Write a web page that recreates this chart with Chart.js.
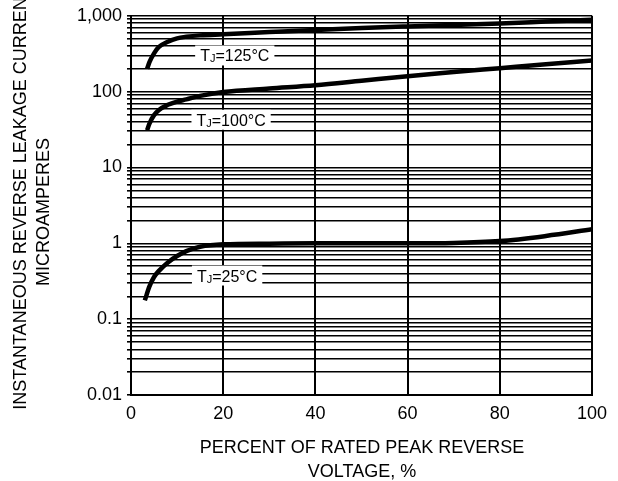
<!DOCTYPE html>
<html>
<head>
<meta charset="utf-8">
<script src="https://cdn.jsdelivr.net/npm/chart.js@4.4.1/dist/chart.umd.min.js"></script>
<style>
  html, body { margin: 0; padding: 0; background: #fff; }
  #wrap { width: 618px; height: 481px; }
</style>
</head>
<body>
<div id="wrap"><canvas id="myChart" width="618" height="481"></canvas></div>
<script>
// percent of rated peak reverse voltage
const pctV = [3.5, 4, 5, 6, 8, 10, 12, 15, 20, 30, 40, 50, 60, 70, 80, 90, 100];
const pctV25 = [3, 4, 5, 6, 8, 10, 12, 15, 20, 30, 40, 50, 60, 70, 80, 90, 100];

// leakage current, microamperes
const ir125 = [200, 245, 320, 385, 455, 505, 530, 552, 570, 610, 652, 690, 724, 757, 792, 838, 887];
const ir100 = [31, 38, 49, 57, 67, 74, 79, 88, 99, 110, 121, 139, 160, 181, 204, 230, 258];
const ir25 = [0.177, 0.27, 0.36, 0.43, 0.56, 0.68, 0.79, 0.9, 0.97, 0.99, 1.0, 1.0, 1.0, 1.01, 1.07, 1.25, 1.53];

// y axis
const decades = [0.01, 0.1, 1, 10, 100];
const decadeLabels = ['0.01', '0.1', '1', '10', '100', '1,000'];
const mantissas = [1, 2, 3, 4, 5, 6, 7, 8, 9];

const xTicks = [0, 20, 40, 60, 80, 100];

const yMajor = decades.concat([1000]);
let yTicks = [];
decades.forEach(d => mantissas.forEach(m => yTicks.push(+(d * m).toPrecision(3))));
yTicks.push(1000);

const FONT = 'Arial, "Liberation Sans", Helvetica, sans-serif';

function pts(xs, ys) {
  return xs.map((x, i) => ({x: x, y: ys[i]}));
}

function curve(data) {
  return {
    data: data,
    borderColor: '#000',
    borderWidth: 4.5,
    pointRadius: 0,
    fill: false,
    cubicInterpolationMode: 'monotone',
    borderCapStyle: 'butt'
  };
}

// titles + Tj labels
const extras = {
  id: 'extras',
  afterDraw(chart) {
    const ctx = chart.ctx;
    const xs = chart.scales.x, ys = chart.scales.y;
    ctx.save();
    ctx.fillStyle = '#000';

    // x title
    ctx.font = '18px ' + FONT;
    ctx.textAlign = 'center';
    ctx.textBaseline = 'middle';
    ctx.fillText('PERCENT OF RATED PEAK REVERSE', 362, 448);
    ctx.fillText('VOLTAGE, %', 362, 472);

    // y title
    ctx.save();
    ctx.translate(21, 198);
    ctx.rotate(-Math.PI / 2);
    ctx.fillText('INSTANTANEOUS REVERSE LEAKAGE CURRENT', 0, 0);
    ctx.restore();
    ctx.save();
    ctx.translate(44, 212);
    ctx.rotate(-Math.PI / 2);
    ctx.fillText('MICROAMPERES', 0, 0);
    ctx.restore();

    // curve labels
    const tags = [
      {t: '=125°C', x: 15, y: 300},
      {t: '=100°C', x: 14.2, y: 42.6},
      {t: '=25°C', x: 14.3, y: 0.376}
    ];
    tags.forEach(tag => {
      const px = xs.getPixelForValue(tag.x);
      const py = ys.getPixelForValue(tag.y);
      ctx.font = '16px ' + FONT;
      const wT = ctx.measureText('T').width;
      const wR = ctx.measureText(tag.t).width;
      ctx.font = '11px ' + FONT;
      const wJ = ctx.measureText('J').width;
      const w = wT + wJ + wR;
      ctx.fillStyle = '#fff';
      ctx.fillRect(px - 5, py - 10, w + 10, 20);
      ctx.fillStyle = '#000';
      ctx.textAlign = 'left';
      ctx.textBaseline = 'alphabetic';
      ctx.font = '16px ' + FONT;
      ctx.fillText('T', px, py + 6);
      ctx.font = '11px ' + FONT;
      ctx.fillText('J', px + wT, py + 7);
      ctx.font = '16px ' + FONT;
      ctx.fillText(tag.t, px + wT + wJ, py + 6);
    });
    ctx.restore();
  }
};

const config = {
  type: 'line',
  data: {
    datasets: [
      curve(pts(pctV, ir125)),
      curve(pts(pctV, ir100)),
      curve(pts(pctV25, ir25))
    ]
  },
  options: {
    responsive: false,
    animation: false,
    layout: { padding: { top: 13, right: 26, left: 0, bottom: 0 } },
    plugins: {
      legend: { display: false },
      tooltip: { enabled: false },
      title: { display: false }
    },
    scales: {
      x: {
        type: 'linear',
        min: 0,
        max: 100,
        afterBuildTicks: s => { s.ticks = xTicks.map(v => ({value: v})); },
        afterFit: s => { s.height = 86; },
        grid: { color: '#000', lineWidth: 2, drawTicks: false },
        border: { display: true, color: '#000', width: 2 },
        ticks: {
          color: '#000',
          padding: 8,
          font: { family: FONT, size: 18 },
          maxRotation: 0,
          autoSkip: false
        }
      },
      y: {
        type: 'logarithmic',
        min: 0.01,
        max: 1000,
        afterBuildTicks: s => { s.ticks = yTicks.map(v => ({value: v})); },
        afterFit: s => { s.width = 131; },
        grid: { color: '#000', lineWidth: 1.6, tickLength: 4 },
        border: { display: true, color: '#000', width: 2 },
        ticks: {
          color: '#000',
          padding: 5,
          autoSkip: false,
          font: { family: FONT, size: 18 },
          callback: v => {
            const i = yMajor.indexOf(v);
            return i >= 0 ? decadeLabels[i] : '';
          }
        }
      }
    }
  },
  plugins: [extras]
};

var ctx = document.getElementById('myChart').getContext('2d');
grafica = new Chart(ctx, config);
</script>
</body>
</html>
